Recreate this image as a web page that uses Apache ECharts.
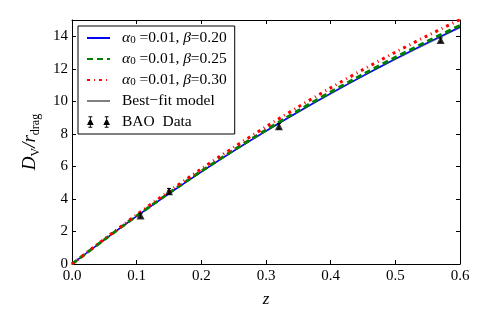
<!DOCTYPE html>
<html>
<head>
<meta charset="utf-8">
<script src="https://cdn.jsdelivr.net/npm/echarts@6/dist/echarts.min.js"></script>
<style>
html,body{margin:0;padding:0;background:#fff;}
#c{width:491px;height:327px;}
</style>
</head>
<body>
<div id="c"></div>
<script>
// ---- data ----
var zGrid = [0, 0.05, 0.10, 0.15, 0.20, 0.25, 0.30, 0.35, 0.40, 0.45, 0.50, 0.55, 0.60];
var beta020 = [0, 1.49, 2.94, 4.33, 5.67, 6.95, 8.18, 9.36, 10.49, 11.57, 12.61, 13.61, 14.57];
var beta025 = [0, 1.50, 2.96, 4.36, 5.71, 7.00, 8.24, 9.43, 10.57, 11.66, 12.70, 13.70, 14.66];
var beta030 = [0, 1.53, 3.03, 4.47, 5.85, 7.17, 8.44, 9.66, 10.83, 11.95, 13.02, 14.04, 15.02];
var bestFit = [0, 1.49, 2.93, 4.32, 5.65, 6.93, 8.15, 9.33, 10.46, 11.54, 12.57, 13.56, 14.52];
var baoZ = [0.106, 0.15, 0.32, 0.57];
var baoVal = [2.98, 4.47, 8.47, 13.77];
var baoErr = [0.13, 0.17, 0.17, 0.13];
var xTicks = [0, 0.1, 0.2, 0.3, 0.4, 0.5, 0.6];
var yTicks = [0, 2, 4, 6, 8, 10, 12, 14];
var seriesNames = ['α0 =0.01, β=0.20', 'α0 =0.01, β=0.25', 'α0 =0.01, β=0.30', 'Best\u2212fit model', 'BAO  Data'];

function pairs(xs, ys) { return xs.map(function (x, i) { return [x, ys[i]]; }); }

var FONT = '"Liberation Serif", "DejaVu Serif", serif';
var baoIcon = 'path://M3,1h1v12h-1zM1.5,1h4v1h-4zM1.5,12h4v1h-4zM0,10L3.5,3L7,10zM20,1h1v12h-1zM18.5,1h4v1h-4zM18.5,12h4v1h-4zM17,10L20.5,3L24,10z';

var chart = echarts.init(document.getElementById('c'), null, {renderer: 'canvas'});

function xAxisCfg(pos, showLabel) {
  return {
    type: 'value', position: pos, min: 0, max: 0.6, interval: 0.1,
    axisLine: {show: true, onZero: false, lineStyle: {color: '#000', width: 1}},
    axisTick: {show: true, inside: true, length: 4, lineStyle: {color: '#000', width: 1}},
    axisLabel: {show: showLabel, margin: 5, color: '#000', fontFamily: FONT, fontSize: 15,
      formatter: function (v) { return v.toFixed(1); }},
    splitLine: {show: false}
  };
}
function yAxisCfg(pos, showLabel) {
  return {
    type: 'value', position: pos, min: 0, max: 15,
    axisLine: {show: true, onZero: false, lineStyle: {color: '#000', width: 1}},
    axisTick: {show: true, inside: true, length: 4, customValues: yTicks, lineStyle: {color: '#000', width: 1}},
    axisLabel: {show: showLabel, margin: 4, color: '#000', fontFamily: FONT, fontSize: 15, customValues: yTicks},
    splitLine: {show: false}
  };
}

var xb = xAxisCfg('bottom', true);
xb.name = 'z';
xb.nameLocation = 'middle';
xb.nameGap = 27;
xb.nameTextStyle = {fontFamily: FONT, fontStyle: 'italic', fontSize: 17, color: '#000'};
var xt = xAxisCfg('top', false);

var yl = yAxisCfg('left', true);
yl.name = '{i|D}{s|V}{i|/r}{s|drag}';
yl.nameLocation = 'middle';
yl.nameGap = 28;
yl.nameRotate = 90;
yl.nameTextStyle = {
  fontFamily: FONT, color: '#000',
  rich: {
    i: {fontFamily: FONT, fontStyle: 'italic', fontSize: 19, color: '#000', lineHeight: 22, verticalAlign: 'top'},
    s: {fontFamily: FONT, fontSize: 12, color: '#000', lineHeight: 22, verticalAlign: 'bottom', padding: [10, 0, 0, 0]}
  }
};
var yr = yAxisCfg('right', false);

function legendFmt(name) {
  var m = name.match(/^α0 =0\.01, β=(.*)$/);
  if (m) return '{i|α}{s|0}{n| =0.01, }{i|β}{n|=' + m[1] + '}';
  return '{n|' + name + '}';
}

var option = {
  animation: false,
  backgroundColor: '#fff',
  grid: {left: 72, right: 31, top: 20, bottom: 63},
  xAxis: [xb, xt],
  yAxis: [yl, yr],
  legend: {
    left: 78, top: 26, orient: 'vertical',
    padding: [4, 8, 4, 8],
    itemGap: 5, itemWidth: 23, itemHeight: 14,
    backgroundColor: '#fff', borderColor: '#000', borderWidth: 1, borderRadius: 0,
    itemStyle: {opacity: 0},
    formatter: legendFmt,
    textStyle: {
      fontFamily: FONT, fontSize: 15.5, lineHeight: 14, color: '#000', padding: [0, 0, 0, 7],
      rich: {
        n: {fontFamily: FONT, fontSize: 15.5, color: '#000', lineHeight: 14},
        i: {fontFamily: FONT, fontStyle: 'italic', fontSize: 15.5, color: '#000', lineHeight: 14},
        s: {fontFamily: FONT, fontSize: 11, color: '#000', lineHeight: 14, padding: [5, 0, 0, 0]}
      }
    },
    data: [
      {name: seriesNames[0]}, {name: seriesNames[1]}, {name: seriesNames[2]}, {name: seriesNames[3]},
      {name: seriesNames[4], icon: baoIcon, itemStyle: {color: '#000', opacity: 1}}
    ]
  },
  series: [
    {name: seriesNames[3], type: 'line', data: pairs(zGrid, bestFit), symbol: 'none', smooth: 0.3, z: 1,
      lineStyle: {color: '#808080', width: 1.2}, itemStyle: {color: '#808080'}},
    {name: seriesNames[0], type: 'line', data: pairs(zGrid, beta020), symbol: 'none', smooth: 0.3, z: 2,
      lineStyle: {color: '#0000ff', width: 1.5}, itemStyle: {color: '#0000ff'}},
    {name: seriesNames[1], type: 'line', data: pairs(zGrid, beta025), symbol: 'none', smooth: 0.3, z: 3,
      lineStyle: {color: '#008000', width: 3, type: [6, 4]}, itemStyle: {color: '#008000'}},
    {name: seriesNames[2], type: 'line', data: pairs(zGrid, beta030), symbol: 'none', smooth: 0.3, z: 4,
      lineStyle: {color: '#ff0000', width: 3, type: [3, 4, 1, 4]}, itemStyle: {color: '#ff0000'}},
    {name: seriesNames[4], type: 'custom', z: 5,
      data: baoZ.map(function (z, i) { return [z, baoVal[i], baoErr[i]]; }),
      renderItem: function (params, api) {
        var x = api.value(0), y = api.value(1), e = api.value(2);
        var lo = api.coord([x, y - e]), hi = api.coord([x, y + e]);
        var st = {stroke: '#000', lineWidth: 1};
        return {type: 'group', children: [
          {type: 'line', shape: {x1: lo[0], y1: lo[1], x2: hi[0], y2: hi[1]}, style: st},
          {type: 'line', shape: {x1: lo[0] - 2, y1: lo[1], x2: lo[0] + 2, y2: lo[1]}, style: st},
          {type: 'line', shape: {x1: hi[0] - 2, y1: hi[1], x2: hi[0] + 2, y2: hi[1]}, style: st}
        ]};
      },
      itemStyle: {color: '#000'}
    },
    {name: seriesNames[4], type: 'scatter', z: 6, data: pairs(baoZ, baoVal), symbol: 'triangle', symbolSize: 8,
      itemStyle: {color: '#000'}}
  ]
};
chart.setOption(option);
</script>
</body>
</html>
